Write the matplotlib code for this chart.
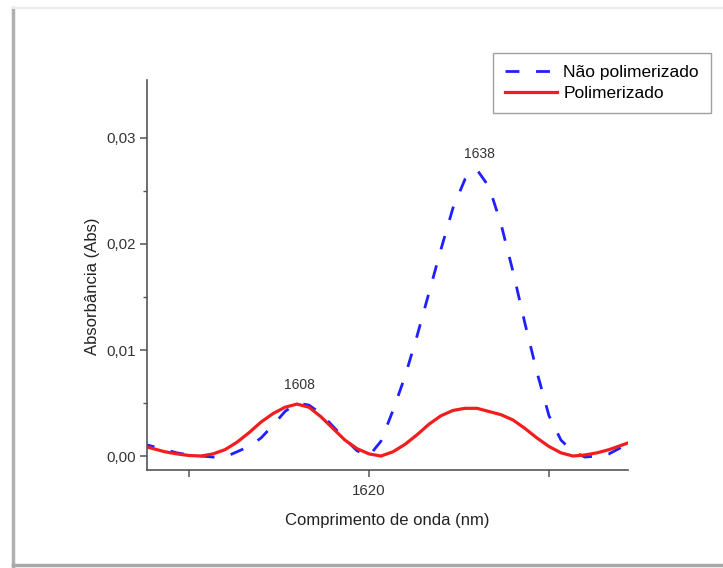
import matplotlib
matplotlib.use('Agg')
import matplotlib.pyplot as plt
from matplotlib.lines import Line2D
from matplotlib.ticker import MultipleLocator, FixedLocator, FuncFormatter

plt.rcParams['font.family'] = ['Liberation Sans', 'DejaVu Sans']

# wavelength grid (nm), step 2
wl = [1582, 1584, 1586, 1588, 1590, 1592, 1594, 1596, 1598, 1600,
      1602, 1604, 1606, 1608, 1610, 1612, 1614, 1616, 1618, 1620,
      1622, 1624, 1626, 1628, 1630, 1632, 1634, 1636, 1638, 1640,
      1642, 1644, 1646, 1648, 1650, 1652, 1654, 1656, 1658, 1660,
      1662, 1664]

# absorbance, sample before polymerisation
abs_nao = [0.0012, 0.0009, 0.0006, 0.0003, 0.0001, 0.0000, -0.0001, -0.0001, 0.0004, 0.0009,
           0.0017, 0.0029, 0.0042, 0.0050, 0.0048, 0.0040, 0.0028, 0.0016, 0.0005, 0.0000,
           0.0014, 0.0043, 0.0075, 0.0113, 0.0154, 0.0195, 0.0234, 0.0261, 0.0270, 0.0254,
           0.0219, 0.0174, 0.0125, 0.0079, 0.0038, 0.0015, 0.0004, -0.0001, 0.0000, 0.0002,
           0.0008, 0.0013]

# absorbance, polymerised sample
abs_pol = [0.0010, 0.0007, 0.0004, 0.0002, 0.00005, 0.0000, 0.0002, 0.0006, 0.0013, 0.0022,
           0.0032, 0.0040, 0.0046, 0.0049, 0.0046, 0.0037, 0.0026, 0.0015, 0.0007, 0.0002,
           0.0000, 0.0004, 0.0011, 0.0020, 0.0030, 0.0038, 0.0043, 0.0045, 0.0045, 0.0042,
           0.0039, 0.0034, 0.0026, 0.0017, 0.0009, 0.0003, 0.0000, 0.0001, 0.0003, 0.0006,
           0.0010, 0.0014]

peaks = [(1608, 0.0050, 13), (1638, 0.0270, 11)]
x_ticks = [1590, 1620, 1650]
x_ticklabels = ['', '1620', '']

fig = plt.figure(figsize=(7.23, 5.68), dpi=100)
ax = fig.add_axes([0.2033, 0.1725, 0.6653, 0.6867])

ax.plot(wl, abs_nao, color='#1f1fff', lw=2.0, dashes=(5, 6), label='Não polimerizado')
ax.plot(wl, abs_pol, color='#f21d1d', lw=2.3, label='Polimerizado')

ax.set_xlim(1583.0, 1663.17)
ax.set_ylim(-0.00132, 0.03547)

for s in ['top', 'right']:
    ax.spines[s].set_visible(False)
for s in ['left', 'bottom']:
    ax.spines[s].set_color('#555555')
    ax.spines[s].set_linewidth(1.2)

ax.xaxis.set_major_locator(FixedLocator(x_ticks))
ax.set_xticklabels(x_ticklabels)
ax.yaxis.set_major_locator(MultipleLocator(0.01))
ax.yaxis.set_minor_locator(FixedLocator([0.005, 0.015, 0.025]))
ax.yaxis.set_major_formatter(FuncFormatter(lambda v, p: f'{v:.2f}'.replace('.', ',')))
ax.tick_params(axis='both', which='major', direction='out', length=5, width=1.1,
               color='#555555', labelsize=10.8, labelcolor='#333333', pad=3)
ax.tick_params(axis='y', which='minor', direction='out', length=3, width=1.0, color='#555555')
ax.tick_params(axis='x', which='major', pad=5)

ax.set_xlabel('Comprimento de onda (nm)', fontsize=12, color='#222222', labelpad=11)
ax.set_ylabel('Absorbância (Abs)', fontsize=12, color='#222222')
ax.yaxis.set_label_coords(-0.098, 0.47)

for px, py, off in peaks:
    ax.annotate(f'{px}', (px, py), xytext=(2, off), textcoords='offset points',
                ha='center', va='center', fontsize=10, color='#333333')

leg = fig.legend(loc='upper right', bbox_to_anchor=(0.9834, 0.9067), fontsize=12.5,
                 frameon=True, fancybox=False, edgecolor='#888888', handlelength=3.0,
                 handletextpad=0.35, labelspacing=0.3, borderpad=0.7, borderaxespad=0)
leg.get_frame().set_linewidth(1.0)

# soft frame around the figure
fig.add_artist(Line2D([0.018, 0.018], [0.004, 0.986], color='#b0b0b0', lw=2.5))
fig.add_artist(Line2D([0.018, 1.0], [0.005, 0.005], color='#a8a8a8', lw=2.5))
fig.add_artist(Line2D([0.018, 1.0], [0.986, 0.986], color='#ececec', lw=1.5))

fig.savefig('out.png', dpi=100)
